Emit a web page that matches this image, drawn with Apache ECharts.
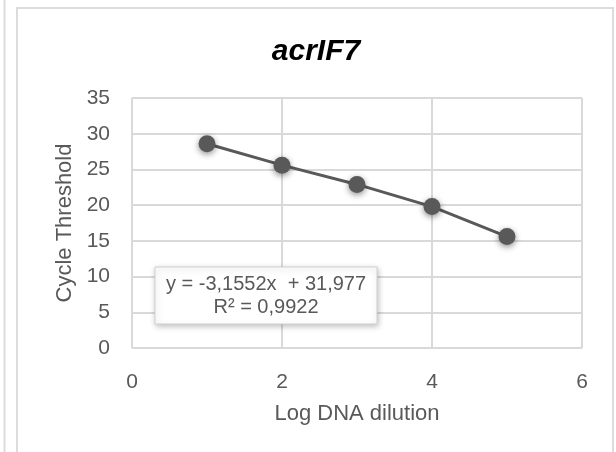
<!DOCTYPE html>
<html>
<head>
<meta charset="utf-8">
<script src="https://cdn.jsdelivr.net/npm/echarts@6/dist/echarts.min.js"></script>
<style>
  html, body { margin: 0; padding: 0; background: #ffffff; }
  #chart { width: 616px; height: 452px; }
</style>
</head>
<body>
<div id="chart"></div>
<script>
// Standard curve: Ct against log dilution
const chartTitle = 'acrIF7';
const logDilution = [1, 2, 3, 4, 5];
const cycleThreshold = [28.6, 25.6, 22.9, 19.8, 15.6];
const xTicks = [0, 2, 4, 6];
const yTicks = [0, 5, 10, 15, 20, 25, 30, 35];
const equationLines = ['y = -3,1552x  + 31,977', 'R² = 0,9922'];

const FONT = '"Liberation Sans", Arial, sans-serif';
const GREY = '#595959';
const GRID = '#d9d9d9';

const points = logDilution.map((x, i) => [x, cycleThreshold[i]]);

const chart = echarts.init(document.getElementById('chart'), null, { renderer: 'canvas' });
chart.setOption({
  backgroundColor: '#ffffff',
  animation: false,
  grid: { left: 132, right: 34, top: 98, bottom: 104 },
  xAxis: {
    type: 'value',
    min: xTicks[0],
    max: xTicks[xTicks.length - 1],
    interval: xTicks[1] - xTicks[0],
    name: 'Log DNA dilution',
    nameLocation: 'middle',
    nameGap: 55,
    nameTextStyle: { color: GREY, fontSize: 22, fontFamily: FONT },
    axisLine: { show: false },
    axisTick: { show: false },
    axisLabel: { color: GREY, fontSize: 21, fontFamily: FONT, margin: 24 },
    splitLine: { show: true, lineStyle: { color: GRID, width: 2 } }
  },
  yAxis: {
    type: 'value',
    min: yTicks[0],
    max: yTicks[yTicks.length - 1],
    interval: yTicks[1] - yTicks[0],
    name: 'Cycle Threshold',
    nameLocation: 'middle',
    nameGap: 55,
    nameTextStyle: { color: GREY, fontSize: 22, fontFamily: FONT },
    axisLine: { show: false },
    axisTick: { show: false },
    axisLabel: { color: GREY, fontSize: 21, fontFamily: FONT, margin: 22 },
    splitLine: { show: true, lineStyle: { color: GRID, width: 2 } }
  },
  series: [{
    type: 'line',
    data: points,
    symbol: 'circle',
    symbolSize: 17,
    lineStyle: { color: GREY, width: 3 },
    itemStyle: {
      color: GREY,
      shadowBlur: 6,
      shadowColor: 'rgba(0,0,0,0.45)',
      shadowOffsetY: 2
    },
    z: 3
  }],
  graphic: [
    // outer chart frame and neighbouring panel edge
    { type: 'line', shape: { x1: 4.5, y1: 0, x2: 4.5, y2: 452 }, style: { stroke: '#dcdcdc', lineWidth: 2 } },
    { type: 'rect', shape: { x: 17, y: 8, width: 596, height: 470 }, style: { fill: null, stroke: '#dcdcdc', lineWidth: 2 } },
    {
      type: 'text', x: 316, y: 52,
      style: {
        text: chartTitle, textAlign: 'center', textVerticalAlign: 'middle',
        font: 'italic bold 30px ' + FONT, fill: '#000000'
      }
    },
    // trendline equation box
    {
      type: 'rect', x: 155, y: 267, z: 20, zlevel: 1,
      shape: { x: 0, y: 0, width: 222, height: 57 },
      style: { fill: '#ffffff', stroke: '#d0d0d0', lineWidth: 1, shadowBlur: 6, shadowColor: 'rgba(0,0,0,0.25)', shadowOffsetX: 1, shadowOffsetY: 2 }
    },
    {
      type: 'text', x: 266, y: 284, z: 21, zlevel: 1,
      style: { text: equationLines[0], textAlign: 'center', textVerticalAlign: 'middle', font: '20px ' + FONT, fill: GREY }
    },
    {
      type: 'text', x: 266, y: 307, z: 21, zlevel: 1,
      style: { text: equationLines[1], textAlign: 'center', textVerticalAlign: 'middle', font: '20px ' + FONT, fill: GREY }
    }
  ]
});
</script>
</body>
</html>
